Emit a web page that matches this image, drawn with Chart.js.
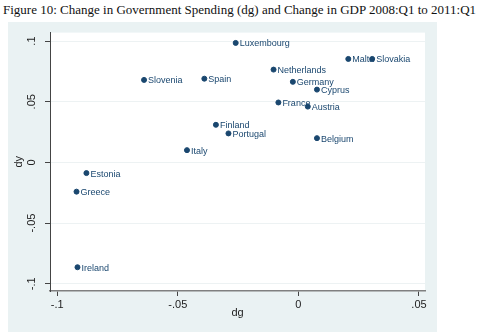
<!DOCTYPE html>
<html>
<head>
<meta charset="utf-8">
<script src="https://cdn.jsdelivr.net/npm/chart.js@4"></script>
<style>
  body { margin: 0; background: #fff; width: 480px; height: 336px; position: relative; overflow: hidden; }
  #titulo { position: absolute; left: 3px; top: 2px; font-family: "Liberation Serif", serif; font-size: 13px; color: #111; white-space: nowrap; }
  #panel { position: absolute; left: 8px; top: 22px; width: 429px; height: 310px; background: #eaf2f3; }
</style>
</head>
<body>
<div id="titulo">Figure 10: Change in Government Spending (dg) and Change in GDP 2008:Q1 to 2011:Q1</div>
<div id="panel"><canvas id="myChart" width="429" height="310"></canvas></div>
<script>
const paises = ['Luxembourg','Slovenia','Spain','Netherlands','Germany','Malta','Slovakia','Cyprus','France','Austria','Belgium','Finland','Portugal','Italy','Estonia','Greece','Ireland']
const dg = [-0.026,-0.064,-0.039,-0.0103,-0.0023,0.0207,0.0306,0.0077,-0.0083,0.0039,0.0077,-0.0342,-0.029,-0.0462,-0.0879,-0.092,-0.0916]
const dy = [0.0985,0.068,0.069,0.0765,0.0664,0.0853,0.0853,0.060,0.0494,0.046,0.020,0.031,0.0239,0.0101,-0.0088,-0.0241,-0.0864]

const xTicks = [-0.1,-0.05,0,0.05]
const xTickLabels = ['-.1','-.05','0','.05']
const yTicks = [-0.1,-0.05,0,0.05,0.1]
const yTickLabels = ['-.1','-.05','0','.05','.1']

const navy = '#1a476f'

let puntos = Array()
dg.forEach((v,i) => {
    puntos.push({x: v, y: dy[i]})
})

// fondo blanco del area del grafico
const fondoBlanco = {
    id: 'fondoBlanco',
    beforeDraw(chart){
        const a = chart.chartArea
        const ctx = chart.ctx
        ctx.save()
        ctx.fillStyle = '#ffffff'
        ctx.fillRect(a.left, a.top, a.right - a.left, a.bottom - a.top)
        ctx.restore()
    }
}

// nombres al lado de cada punto
const etiquetas = {
    id: 'etiquetas',
    afterDatasetsDraw(chart){
        const ctx = chart.ctx
        const meta = chart.getDatasetMeta(0)
        ctx.save()
        ctx.font = '9px "Liberation Sans", Arial, sans-serif'
        ctx.fillStyle = navy
        ctx.textAlign = 'left'
        ctx.textBaseline = 'middle'
        meta.data.forEach((p,i) => {
            ctx.fillText(paises[i], p.x + 4, p.y + 1)
        })
        ctx.restore()
    }
}

const config = {
    type: 'scatter',
    data: {
        datasets: [{
            data: puntos,
            backgroundColor: navy,
            borderColor: navy,
            pointRadius: 2.5,
            pointHoverRadius: 2.5
        }]
    },
    options: {
        responsive: false,
        animation: false,
        layout: { padding: { top: 10, right: 12, left: 0, bottom: 0 } },
        plugins: { legend: { display: false }, tooltip: { enabled: false } },
        scales: {
            x: {
                type: 'linear',
                min: -0.103,
                max: 0.0525,
                afterBuildTicks: s => { s.ticks = xTicks.map(v => ({value: v})) },
                afterFit: s => { s.height = 41 },
                grid: { drawOnChartArea: false, tickLength: 5, tickColor: '#444' },
                border: { color: '#808080', width: 1.5 },
                ticks: {
                    padding: 2,
                    maxRotation: 0,
                    color: '#222',
                    font: { family: '"Liberation Sans", Arial, sans-serif', size: 11 },
                    callback: (v) => xTickLabels[xTicks.indexOf(v)]
                },
                title: {
                    display: true, text: 'dg', color: '#222',
                    font: { family: '"Liberation Sans", Arial, sans-serif', size: 11 },
                    padding: { top: 0, bottom: 12 }
                }
            },
            y: {
                type: 'linear',
                min: -0.106,
                max: 0.107,
                afterBuildTicks: s => { s.ticks = yTicks.map(v => ({value: v})) },
                afterFit: s => { s.width = 42 },
                grid: { color: '#edf2f3', tickLength: 5, tickColor: '#444' },
                border: { color: '#444', width: 1 },
                ticks: {
                    padding: 4,
                    minRotation: 90,
                    maxRotation: 90,
                    crossAlign: 'center',
                    color: '#222',
                    font: { family: '"Liberation Sans", Arial, sans-serif', size: 11 },
                    callback: (v) => yTickLabels[yTicks.indexOf(v)]
                },
                title: {
                    display: true, text: 'dy', color: '#222',
                    font: { family: '"Liberation Sans", Arial, sans-serif', size: 11 },
                    padding: { top: 4, bottom: 0 }
                }
            }
        }
    },
    plugins: [fondoBlanco, etiquetas]
}

new Chart(document.getElementById('myChart'), config)
</script>
</body>
</html>
